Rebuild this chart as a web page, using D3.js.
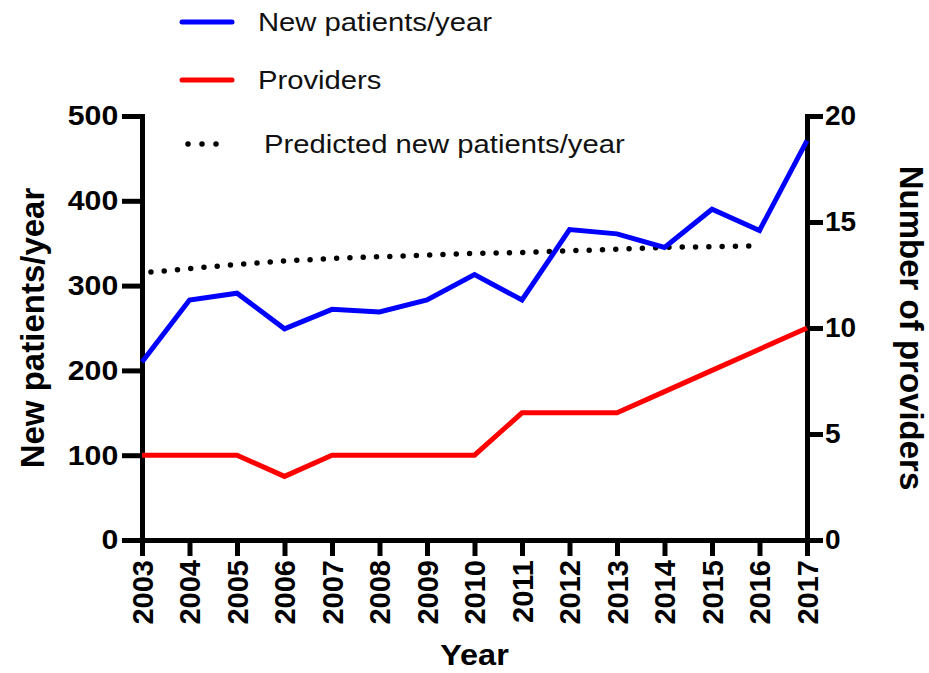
<!DOCTYPE html>
<html>
<head>
<meta charset="utf-8">
<script src="https://cdn.jsdelivr.net/npm/d3@7"></script>
<style>
  html, body { margin: 0; padding: 0; background: #fff; }
  svg { display: block; font-family: "Liberation Sans", Arial, Helvetica, sans-serif; }
</style>
</head>
<body>
<svg id="chart" width="929" height="673"></svg>
<script>
// Yearly clinic figures
const years = [2003, 2004, 2005, 2006, 2007, 2008, 2009, 2010, 2011, 2012, 2013, 2014, 2015, 2016, 2017];
const newPatients = [210, 283, 291, 249, 272, 269, 283, 313, 283, 366, 361, 345, 390, 365, 471];
const providers = [4, 4, 4, 3, 4, 4, 4, 4, 6, 6, 6, 7, 8, 9, 10];
const predictedYears = [2003, 2004, 2005, 2006, 2007, 2008, 2009, 2010, 2011, 2012, 2013, 2014, 2015, 2016];
const predictedPatients = [315, 320, 325, 329, 332, 334, 336, 338, 339, 341, 343, 345, 346, 347];

const leftTicks = [0, 100, 200, 300, 400, 500];
const rightTicks = [0, 5, 10, 15, 20];

const legendItems = [
  { label: "New patients/year", color: "#0000ff", dotted: false },
  { label: "Providers", color: "#ff0000", dotted: false },
  { label: "Predicted new patients/year", color: "#000", dotted: true }
];

const svg = d3.select("#chart");

const x = d3.scaleLinear().domain([2003, 2017]).range([142, 807]);
const yLeft = d3.scaleLinear().domain([0, 500]).range([540, 116]);
const yRight = d3.scaleLinear().domain([0, 20]).range([540, 116]);

const axisW = 5;

// Left axis
const gL = svg.append("g").attr("transform", `translate(${x(2003)},0)`)
  .call(d3.axisLeft(yLeft).tickValues(leftTicks).tickSize(20).tickSizeOuter(0).tickPadding(3));
// Right axis
const gR = svg.append("g").attr("transform", `translate(${x(2017)},0)`)
  .call(d3.axisRight(yRight).tickValues(rightTicks).tickSize(16).tickSizeOuter(0).tickPadding(3));
// Bottom axis
const gB = svg.append("g").attr("transform", `translate(0,${yLeft(0)})`)
  .call(d3.axisBottom(x).tickValues(years).tickFormat(d3.format("d")).tickSize(16).tickSizeOuter(0).tickPadding(3));

[gL, gR, gB].forEach(g => {
  g.select(".domain").attr("stroke", "#000").attr("stroke-width", axisW).attr("stroke-linecap", "square");
  g.selectAll(".tick line").attr("stroke", "#000").attr("stroke-width", axisW);
  g.selectAll(".tick text").attr("fill", "#000").attr("font-size", 28).attr("font-weight", "bold")
    .attr("font-family", "'Liberation Sans', Arial, sans-serif");
});
gL.selectAll(".tick text").attr("x", -22).attr("transform", "scale(1.08,1)");
gR.selectAll(".tick text").attr("x", 18);
gB.selectAll(".tick text")
  .attr("transform", "rotate(-90)")
  .attr("text-anchor", "end")
  .attr("x", -20)
  .attr("y", 0)
  .attr("dy", "0.36em")
  .attr("font-size", 29);

// Axis titles
svg.append("text")
  .attr("transform", `translate(44,${(yLeft(0) + yLeft(500)) / 2}) rotate(-90)`)
  .attr("text-anchor", "middle")
  .attr("font-size", 33).attr("font-weight", "bold")
  .text("New patients/year");

svg.append("text")
  .attr("transform", `translate(900,${(yRight(0) + yRight(20)) / 2}) rotate(90)`)
  .attr("text-anchor", "middle")
  .attr("font-size", 33).attr("font-weight", "bold")
  .text("Number of providers");

svg.append("text")
  .attr("transform", `translate(${(x(2003) + x(2017)) / 2},665) scale(1.08,1)`)
  .attr("text-anchor", "middle")
  .attr("font-size", 30).attr("font-weight", "bold")
  .text("Year");

// Series lines
const lineLeft = d3.line().x(d => x(d[0])).y(d => yLeft(d[1]));
const lineRight = d3.line().x(d => x(d[0])).y(d => yRight(d[1]));

svg.append("path")
  .datum(predictedYears.map((yr, i) => [yr, predictedPatients[i]]))
  .attr("d", lineLeft)
  .attr("fill", "none").attr("stroke", "#000").attr("stroke-width", 5.5)
  .attr("stroke-linecap", "round").attr("stroke-dasharray", "0 13.3").attr("stroke-dashoffset", 4.3);

svg.append("path")
  .datum(years.map((yr, i) => [yr, providers[i]]))
  .attr("d", lineRight)
  .attr("fill", "none").attr("stroke", "#ff0000").attr("stroke-width", 5)
  .attr("stroke-linejoin", "miter");

svg.append("path")
  .datum(years.map((yr, i) => [yr, newPatients[i]]))
  .attr("d", lineLeft)
  .attr("fill", "none").attr("stroke", "#0000ff").attr("stroke-width", 5)
  .attr("stroke-linejoin", "miter");

// Legend
const legendY = [22, 80, 144];
const legendTextX = [258, 258, 264];
const lg = svg.append("g");
legendItems.forEach((item, i) => {
  const row = lg.append("g");
  if (item.dotted) {
    row.append("line")
      .attr("x1", 188).attr("x2", 230).attr("y1", legendY[i]).attr("y2", legendY[i])
      .attr("stroke", item.color).attr("stroke-width", 5.5).attr("stroke-linecap", "round")
      .attr("stroke-dasharray", "0 14");
  } else {
    row.append("line")
      .attr("x1", 182).attr("x2", 232).attr("y1", legendY[i]).attr("y2", legendY[i])
      .attr("stroke", item.color).attr("stroke-width", 5).attr("stroke-linecap", "round");
  }
  row.append("text")
    .attr("transform", `translate(${legendTextX[i]},${legendY[i] + 9}) scale(1.17,1)`)
    .attr("font-size", 25)
    .attr("fill", "#111")
    .text(item.label);
});
</script>
</body>
</html>
